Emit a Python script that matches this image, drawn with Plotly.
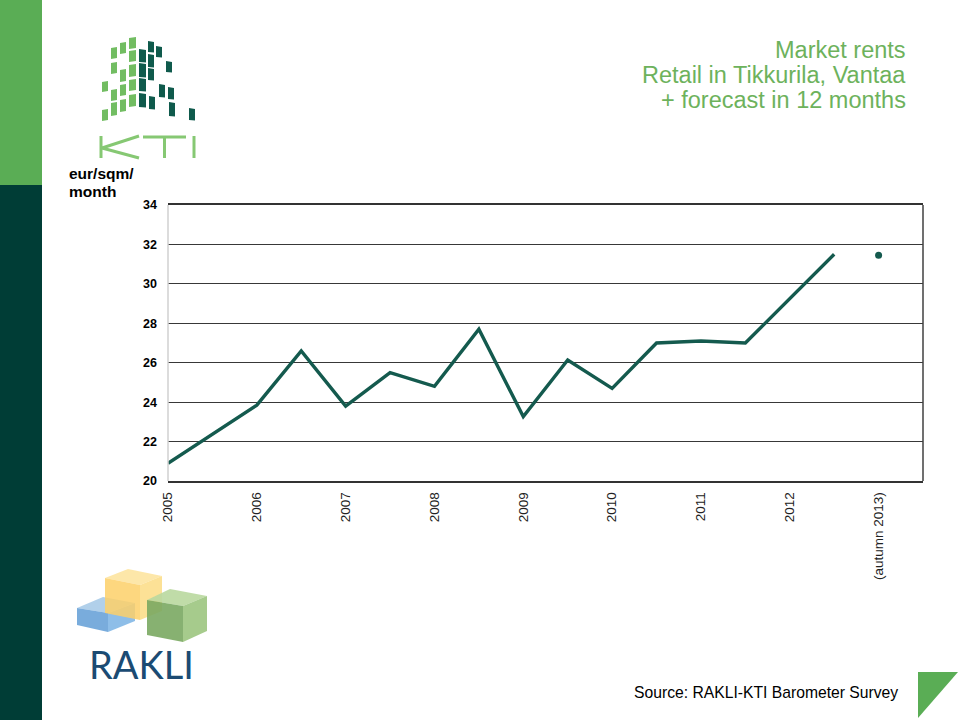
import plotly.graph_objects as go

# ---------------- data ----------------
period_x = [2005, 2005.5, 2006, 2006.5, 2007, 2007.5, 2008, 2008.5,
            2009, 2009.5, 2010, 2010.5, 2011, 2011.5, 2012, 2012.5]
rent = [20.9, 22.35, 23.85, 26.6, 23.8, 25.5, 24.8, 27.7,
        23.27, 26.14, 24.7, 27.0, 27.1, 27.0, 29.25, 31.5]
forecast_x = [2013]
forecast_rent = [31.45]
tick_years = [2005, 2006, 2007, 2008, 2009, 2010, 2011, 2012, 2013]
tick_labels = ["2005", "2006", "2007", "2008", "2009", "2010", "2011", "2012", "(autumn 2013)"]
y_ticks = [20, 22, 24, 26, 28, 30, 32, 34]

title_lines = ["Market rents", "Retail in Tikkurila, Vantaa", "+ forecast in 12 months"]
unit_lines = ["eur/sqm/", "month"]
source_text = "Source: RAKLI-KTI Barometer Survey"

# ---------------- layout helpers ----------------
W, H = 960, 720
def px(x):
    return x / W
def py(y):
    return 1 - y / H

LINE_COLOR = "#145a4e"
FONT = "Liberation Sans, Arial, sans-serif"

fig = go.Figure()
fig.add_trace(go.Scatter(x=period_x, y=rent, mode="lines",
                         line=dict(color=LINE_COLOR, width=3.4), showlegend=False))
fig.add_trace(go.Scatter(x=forecast_x, y=forecast_rent, mode="markers",
                         marker=dict(color=LINE_COLOR, size=7), showlegend=False))

shapes = []

def rect(x0, y0, x1, y1, color):
    shapes.append(dict(type="rect", xref="paper", yref="paper",
                       x0=px(x0), x1=px(x1), y0=py(y1), y1=py(y0),
                       fillcolor=color, line=dict(width=0), layer="below"))

def poly(pts, color, opacity=1.0):
    d = "M " + " L ".join(f"{px(x):.5f},{py(y):.5f}" for x, y in pts) + " Z"
    shapes.append(dict(type="path", xref="paper", yref="paper", path=d,
                       fillcolor=color, line=dict(width=0), opacity=opacity))

def seg(x0, y0, x1, y1, color, width):
    shapes.append(dict(type="line", xref="paper", yref="paper",
                       x0=px(x0), y0=py(y0), x1=px(x1), y1=py(y1),
                       line=dict(color=color, width=width)))

# left colour band
rect(0, 0, 42, 185, "#5aad55")
rect(0, 185, 42, 720, "#003d36")

# bottom-right triangle
poly([(918, 672), (958, 672), (918, 718)], "#5aad55")

# KTI logo squares (x0, x1, y0, y1)
GREEN_SQ = "#72bd62"
DARK_SQ = "#0f5a4c"
green_sq = [(102, 108, 81, 92), (102, 108, 109, 121),
            (111, 117, 47, 59), (111, 117, 62, 74), (111, 117, 89, 101), (111, 117, 102, 116),
            (120, 126, 42, 54), (120, 126, 69, 82), (120, 126, 84, 96), (120, 126, 99, 112),
            (129, 136, 37, 49), (129, 136, 50, 62), (129, 136, 64, 77), (129, 136, 79, 91),
            (129, 136, 94, 107)]
for x0, x1, y0, y1 in green_sq:
    poly([(x0, y0 + 1), (x1, y0), (x1, y1 - 1), (x0, y1)], GREEN_SQ)
dark_sq = [(139, 146, 49, 62), (139, 146, 63, 77), (139, 146, 78, 91), (139, 146, 93, 107),
           (148, 154, 41, 52), (148, 154, 54, 67), (148, 154, 68, 80), (149, 155, 96, 109),
           (156, 162, 46, 57), (159, 165, 84, 97), (166, 172, 61, 72),
           (168, 174, 87, 99), (169, 175, 102, 116), (189, 195, 108, 120)]
for x0, x1, y0, y1 in dark_sq:
    poly([(x0, y0), (x1, y0 + 1), (x1, y1 + 0.5), (x0, y1)], DARK_SQ)

# KTI letters
KC = "#86c873"
seg(101, 136, 101, 158, KC, 3)
seg(102, 148, 139, 136, KC, 3)
seg(102, 148, 139, 158, KC, 3)
seg(143, 137, 186, 137, KC, 3)
seg(164.5, 137, 164.5, 158, KC, 3)
seg(194, 136, 194, 158, KC, 3)

# RAKLI cubes
# blue slab
poly([(77, 608), (103, 597), (135, 603), (108, 613)], "#a9cbe8", 0.9)
poly([(77, 608), (108, 613), (108, 632), (77, 625)], "#6aa3d8", 0.9)
poly([(108, 613), (135, 603), (135, 621), (108, 632)], "#82b7e6", 0.9)
# yellow cube
poly([(105, 578), (128, 569), (162, 576), (140, 585)], "#fde39a", 0.85)
poly([(105, 578), (140, 585), (140, 620), (105, 613)], "#fdd068", 0.85)
poly([(140, 585), (162, 576), (162, 611), (140, 620)], "#fcdc84", 0.85)
# green cube
poly([(147, 600), (170, 589), (207, 596), (183, 606)], "#b9d89f", 0.9)
poly([(147, 600), (183, 606), (183, 642), (147, 635)], "#7aa862", 0.9)
poly([(183, 606), (207, 596), (207, 631), (183, 642)], "#9cc57f", 0.9)

# plot frame pieces
shapes.append(dict(type="line", xref="x domain", yref="y domain", x0=1, x1=1, y0=0, y1=1,
                   line=dict(color="#404040", width=1.5)))
shapes.append(dict(type="line", xref="x domain", yref="y domain", x0=0, x1=0, y0=0, y1=1,
                   line=dict(color="#d0d0d0", width=1.5)))

annotations = []
for i, t in enumerate(title_lines):
    annotations.append(dict(text=t, xref="paper", yref="paper", x=px(908), y=py(50 + 25 * i),
                            xanchor="right", yanchor="middle", showarrow=False,
                            font=dict(family=FONT, size=23.5, color="#6db25c")))
for i, t in enumerate(unit_lines):
    annotations.append(dict(text=t, xref="paper", yref="paper", x=px(67), y=py(173 + 19 * i),
                            xanchor="left", yanchor="middle", showarrow=False,
                            font=dict(family=FONT, size=15.5, color="#000000", weight="bold")))
annotations.append(dict(text=source_text, xref="paper", yref="paper", x=px(900), y=py(692),
                        xanchor="right", yanchor="middle", showarrow=False,
                        font=dict(family=FONT, size=15.7, color="#000000")))
annotations.append(dict(text="RAKLI", xref="paper", yref="paper", x=px(141), y=py(664),
                        xanchor="center", yanchor="middle", showarrow=False,
                        font=dict(family="Lato, Open Sans, sans-serif", size=38, color="#1b4b73")))

fig.update_layout(
    width=W, height=H, autosize=False,
    margin=dict(l=0, r=0, t=0, b=0),
    paper_bgcolor="white", plot_bgcolor="white",
    shapes=shapes, annotations=annotations,
    xaxis=dict(domain=[px(168), px(923)], range=[2005, 2013.5],
               tickmode="array", tickvals=tick_years, ticktext=tick_labels,
               tickangle=-90, tickfont=dict(family=FONT, size=13.5, color="#222222"),
               showgrid=False, zeroline=False, showline=True, mirror=True,
               linecolor="#333333", linewidth=1.5, ticks="", automargin=False,
               ticklabelstandoff=4),
    yaxis=dict(domain=[py(481), py(205)], range=[20, 34],
               tickmode="array", tickvals=y_ticks,
               tickfont=dict(family=FONT, size=12.5, color="#000000", weight="bold"),
               showgrid=True, gridcolor="#383838", gridwidth=1.3,
               zeroline=False, showline=False, ticks="", automargin=False,
               ticklabelstandoff=10),
)

fig.write_html("out.html", config={"displayModeBar": False},
               post_script="document.body.style.margin='0';document.body.style.padding='0';")
